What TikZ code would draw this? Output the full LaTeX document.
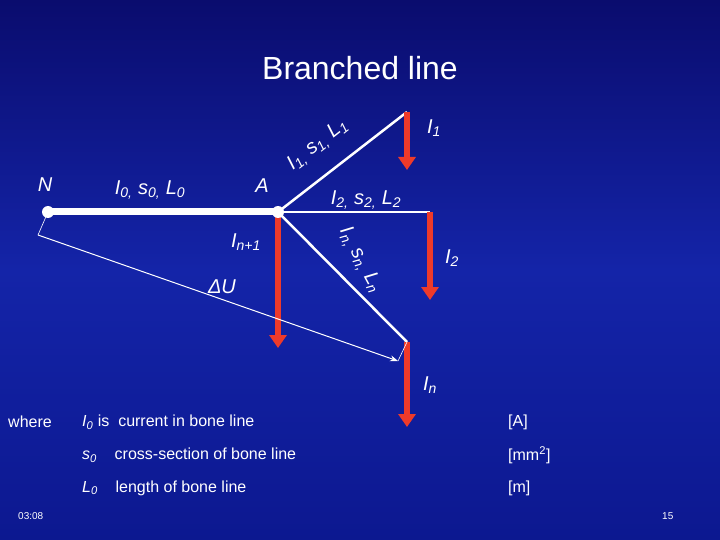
\documentclass[tikz,border=0pt]{standalone}
\usepackage{fontspec}
\setmainfont{Liberation Sans}
\usetikzlibrary{arrows.meta}
\newcommand\sub[1]{\textsubscript{#1}}
\definecolor{bgtop}{HTML}{0A0C6E}
\definecolor{bgmid}{HTML}{1424A8}
\definecolor{bgbot}{HTML}{0C1890}
\definecolor{loadred}{HTML}{EE3A2A}
\begin{document}
\begin{tikzpicture}[x=1pt,y=-1pt,
  lbl/.style={text=white,font=\itshape\fontsize{20}{22}\selectfont,inner sep=0pt},
  txt/.style={text=white,font=\fontsize{16}{18}\selectfont,inner sep=0pt,anchor=west},
  wire/.style={draw=white,line width=2.5pt},
  load/.style={draw=loadred,line width=6pt,-{Triangle[length=13pt,width=17pt]}}]
\useasboundingbox (0,0) rectangle (720,540);
\shade[top color=bgtop,bottom color=bgbot,middle color=bgmid] (0,0) rectangle (720,540);
\coordinate (N) at (48,212);
\coordinate (A) at (278,212);
\coordinate (B1) at (407,112);
\coordinate (B2) at (430,212);
\coordinate (Bn) at (407,342);
\coordinate (D0) at (38,235);
\coordinate (D1) at (398,361);
\node[text=white,font=\fontsize{32}{36}\selectfont] (title) at (360,68) {Branched line};
\draw[draw=white,line width=7pt] (N) -- (A);
\draw[wire] (A) -- (B1);
\draw[wire] (A) -- (B2);
\draw[wire] (A) -- (Bn);
\draw[load] (B1) -- (407,170);
\draw[load] (B2) -- (430,300);
\draw[load] (A) -- (278,348);
\draw[load] (Bn) -- (407,427);
\fill[white] (N) circle (6);
\fill[white] (A) circle (6);
\draw[white,line width=1pt,-{Stealth[length=8pt]}] (D0) -- (D1);
\draw[white,line width=0.6pt] (N) -- (D0);
\draw[white,line width=0.6pt] (Bn) -- (D1);
\node[lbl] (nN) at (45,185) {N};
\node[lbl] (nA) at (262,186) {A};
\node[lbl] (l0) at (150,190) {I\sub{0,} s\sub{0,} L\sub{0}};
\node[lbl,rotate=38] (l1) at (318,145) {I\sub{1,} s\sub{1,} L\sub{1}};
\node[lbl] (l2) at (366,200) {I\sub{2,} s\sub{2,} L\sub{2}};
\node[lbl,rotate=-62] (ln) at (360,260) {I\sub{n,} s\sub{n,} L\sub{n}};
\node[lbl] (i1) at (434,128) {I\sub{1}};
\node[lbl] (i2) at (452,258) {I\sub{2}};
\node[lbl] (in1) at (246,242) {I\sub{n+1}};
\node[lbl] (in) at (430,385) {I\sub{n}};
\node[lbl] (du) at (222,287) {ΔU};
\node[txt] (w) at (8,422) {where};
\node[txt] (r1) at (82,422) {\textit{I\sub{0}} is\ \ current in bone line};
\node[txt] (r2) at (82,455) {\textit{s\sub{0}}\ \ \ \ cross-section of bone line};
\node[txt] (r3) at (82,488) {\textit{L\sub{0}}\ \ \ \ length of bone line};
\node[txt] (u1) at (508,422) {[A]};
\node[txt] (u2) at (508,455) {[mm\textsuperscript{2}]};
\node[txt] (u3) at (508,488) {[m]};
\node[txt,font=\fontsize{10}{12}\selectfont] (t) at (18,516) {03:08};
\node[txt,font=\fontsize{10}{12}\selectfont] (p) at (662,516) {15};
\end{tikzpicture}
\end{document}
